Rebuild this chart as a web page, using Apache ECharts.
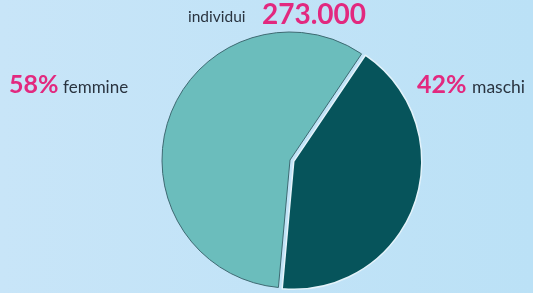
<!DOCTYPE html>
<html>
<head>
<meta charset="utf-8">
<script src="https://cdn.jsdelivr.net/npm/echarts@6/dist/echarts.min.js"></script>
<style>
  html, body { margin: 0; padding: 0; }
  #pie { width: 533px; height: 293px; }
</style>
</head>
<body>
<div id="pie"></div>
<script>
// dati
const categories = ["maschi", "femmine"];
const values = [42, 58];
const totalLabel = "individui";
const totalValue = "273.000";

const colors = ["#06545b", "#6bbdbc"];
const pink = "#e2297f";
const ink = "#2a3440";
const font = "Lato";

const chart = echarts.init(document.getElementById("pie"));

function txt(text, left, top, size, bold, color) {
  return {
    text: text,
    left: left,
    top: top,
    padding: 0,
    textStyle: {
      fontFamily: font,
      fontSize: size,
      fontWeight: bold ? "bold" : "normal",
      color: color,
      lineHeight: size,
    },
  };
}

const option = {
  animation: false,
  backgroundColor: new echarts.graphic.LinearGradient(0, 0, 1, 0, [
    { offset: 0, color: "#c8e5f8" },
    { offset: 1, color: "#bbe1f6" },
  ]),
  title: [
    txt(totalLabel, 188, 9, 15.5, false, ink),
    txt(totalValue, 262, 1, 28, true, pink),
    txt(values[1] + "%", 9, 72, 25, true, pink),
    txt(categories[1], 63, 79, 17, false, ink),
    txt(values[0] + "%", 417, 72, 25, true, pink),
    txt(categories[0], 472, 79, 17.5, false, ink),
  ],
  series: [
    {
      type: "pie",
      center: [290, 160],
      radius: 128,
      startAngle: 56,
      clockwise: true,
      selectedMode: "single",
      selectedOffset: 4,
      label: { show: false },
      labelLine: { show: false },
      emphasis: { disabled: true },
      data: categories.map((name, i) => ({
        name: name,
        value: values[i],
        selected: i === 0,
        itemStyle: {
          color: colors[i],
          borderColor: i === 0 ? "#e4f3fb" : "#3e6a72",
          borderWidth: i === 0 ? 1.5 : 1,
        },
      })),
    },
  ],
};

chart.setOption(option);
</script>
</body>
</html>
